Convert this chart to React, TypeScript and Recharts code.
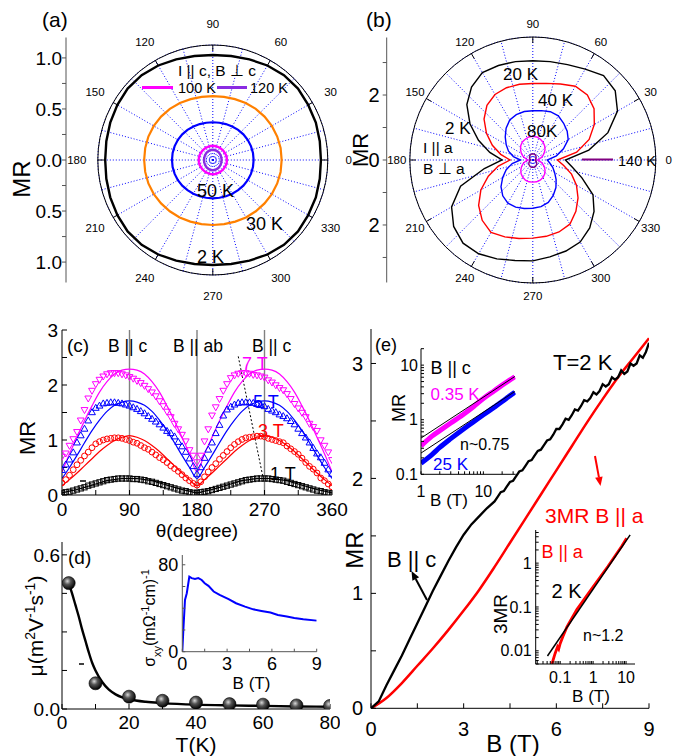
import React from 'react';
import {
  ComposedChart,
  Line,
  Scatter,
  XAxis,
  YAxis,
  ReferenceLine,
  RadarChart,
  Radar,
  PolarGrid,
  PolarAngleAxis,
  PolarRadiusAxis,
} from 'recharts';

const FONT = '"Liberation Sans", Arial, Helvetica, sans-serif';

// ---------- (a), (b): polar MR(theta), one value every 10 degrees (0..350) ----------
const polarAngles = Array.from({ length: 36 }, (_, i) => i * 10);
const gridAngles = Array.from({ length: 24 }, (_, i) => i * 15);

// (a) I || c, B ⊥ c
const a2K = [1.06, 1.065, 1.075, 1.08, 1.09, 1.085, 1.07, 1.05, 1.035, 1.03, 1.035, 1.05, 1.07, 1.085, 1.09, 1.08, 1.07, 1.06, 1.055, 1.06, 1.07, 1.08, 1.09, 1.085, 1.07, 1.05, 1.035, 1.03, 1.035, 1.05, 1.07, 1.085, 1.09, 1.08, 1.075, 1.065];
const a30K = [0.675, 0.675, 0.672, 0.668, 0.662, 0.655, 0.645, 0.635, 0.629, 0.627, 0.629, 0.635, 0.645, 0.655, 0.662, 0.668, 0.672, 0.673, 0.673, 0.673, 0.672, 0.668, 0.662, 0.656, 0.65, 0.643, 0.639, 0.637, 0.639, 0.643, 0.65, 0.656, 0.662, 0.668, 0.672, 0.675];
const a50K = [0.4, 0.4, 0.398, 0.395, 0.391, 0.386, 0.38, 0.375, 0.371, 0.37, 0.371, 0.375, 0.38, 0.386, 0.391, 0.395, 0.398, 0.4, 0.4, 0.4, 0.398, 0.395, 0.391, 0.386, 0.382, 0.378, 0.376, 0.376, 0.376, 0.378, 0.382, 0.386, 0.391, 0.395, 0.398, 0.4];
const a100K = [0.138, 0.138, 0.138, 0.137, 0.137, 0.137, 0.138, 0.138, 0.139, 0.139, 0.139, 0.138, 0.138, 0.137, 0.137, 0.137, 0.138, 0.138, 0.138, 0.138, 0.138, 0.137, 0.137, 0.137, 0.138, 0.138, 0.139, 0.139, 0.139, 0.138, 0.138, 0.137, 0.137, 0.137, 0.138, 0.138];
const a120K = [0.086, 0.086, 0.087, 0.089, 0.091, 0.094, 0.096, 0.098, 0.1, 0.1, 0.1, 0.098, 0.096, 0.094, 0.091, 0.089, 0.087, 0.086, 0.086, 0.086, 0.087, 0.089, 0.091, 0.094, 0.096, 0.098, 0.1, 0.1, 0.1, 0.098, 0.096, 0.094, 0.091, 0.089, 0.087, 0.086];

// (b) I || a, B ⊥ a
const b2K = [1.06, 1.85, 2.6, 3.18, 3.5, 3.58, 3.41, 3.3, 3.25, 3.23, 3.25, 3.27, 3.28, 3.1, 2.8, 2.36, 1.88, 1.42, 1.0, 1.6, 2.5, 3.05, 3.36, 3.53, 3.52, 3.42, 3.32, 3.28, 3.2, 3.15, 3.08, 2.88, 2.6, 2.26, 1.7, 1.3];
const b20K = [0.8, 1.45, 1.95, 2.31, 2.6, 2.76, 2.77, 2.63, 2.53, 2.49, 2.5, 2.5, 2.46, 2.32, 2.07, 1.74, 1.4, 1.06, 0.74, 1.14, 1.54, 1.95, 2.3, 2.56, 2.72, 2.66, 2.59, 2.54, 2.52, 2.49, 2.41, 2.18, 1.92, 1.64, 1.34, 1.02];
const b40K = [0.47, 0.78, 1.06, 1.33, 1.46, 1.56, 1.66, 1.67, 1.63, 1.6, 1.6, 1.57, 1.5, 1.35, 1.17, 1.0, 0.84, 0.64, 0.4, 0.68, 0.92, 1.13, 1.35, 1.52, 1.62, 1.63, 1.6, 1.57, 1.54, 1.47, 1.33, 1.17, 0.99, 0.82, 0.69, 0.56];
const b80K = [0.15, 0.23, 0.33, 0.42, 0.52, 0.6, 0.67, 0.72, 0.76, 0.77, 0.76, 0.72, 0.68, 0.61, 0.52, 0.43, 0.33, 0.23, 0.15, 0.24, 0.33, 0.42, 0.51, 0.59, 0.65, 0.7, 0.72, 0.72, 0.72, 0.7, 0.66, 0.6, 0.52, 0.43, 0.33, 0.24];
const b140K = [0.07, 0.08, 0.1, 0.12, 0.14, 0.16, 0.18, 0.19, 0.2, 0.2, 0.2, 0.19, 0.18, 0.16, 0.14, 0.12, 0.1, 0.08, 0.07, 0.09, 0.11, 0.14, 0.17, 0.19, 0.21, 0.23, 0.24, 0.24, 0.24, 0.23, 0.21, 0.19, 0.17, 0.14, 0.11, 0.09];

// ---------- (c) MR vs angle, markers every 5 deg, fits every 10 deg ----------
const thetaPts = Array.from({ length: 73 }, (_, i) => i * 5);
const thetaFit = Array.from({ length: 37 }, (_, i) => i * 10);

const mr7T = [0.7, 0.76, 0.9, 1.02, 1.15, 1.36, 1.55, 1.76, 1.9, 2.02, 2.1, 2.16, 2.2, 2.22, 2.22, 2.22, 2.2, 2.18, 2.15, 2.12, 2.08, 2.04, 1.99, 1.93, 1.87, 1.8, 1.71, 1.62, 1.52, 1.42, 1.3, 1.2, 1.1, 0.98, 0.82, 0.72, 0.6, 0.72, 0.98, 1.2, 1.45, 1.6, 1.75, 1.9, 2.02, 2.13, 2.18, 2.21, 2.22, 2.22, 2.21, 2.19, 2.18, 2.16, 2.14, 2.09, 2.05, 2.0, 1.95, 1.91, 1.84, 1.75, 1.66, 1.58, 1.5, 1.42, 1.3, 1.24, 1.17, 1.0, 0.9, 0.78, 0.64];
const mr5T = [0.45, 0.55, 0.64, 0.77, 0.95, 1.08, 1.2, 1.35, 1.5, 1.58, 1.62, 1.66, 1.67, 1.68, 1.68, 1.67, 1.66, 1.64, 1.62, 1.59, 1.56, 1.52, 1.48, 1.43, 1.38, 1.33, 1.28, 1.22, 1.16, 1.12, 1.06, 0.96, 0.88, 0.78, 0.66, 0.52, 0.38, 0.5, 0.67, 0.82, 0.95, 1.12, 1.27, 1.44, 1.55, 1.6, 1.64, 1.67, 1.68, 1.68, 1.68, 1.67, 1.65, 1.63, 1.61, 1.56, 1.53, 1.5, 1.46, 1.43, 1.39, 1.34, 1.28, 1.2, 1.12, 1.04, 0.95, 0.85, 0.75, 0.68, 0.58, 0.46, 0.38];
const mr3T = [0.22, 0.28, 0.36, 0.46, 0.55, 0.63, 0.71, 0.78, 0.86, 0.93, 0.97, 1.0, 1.02, 1.03, 1.04, 1.04, 1.03, 1.01, 0.99, 0.96, 0.94, 0.9, 0.86, 0.83, 0.78, 0.73, 0.68, 0.64, 0.59, 0.53, 0.48, 0.43, 0.37, 0.31, 0.26, 0.21, 0.18, 0.24, 0.33, 0.42, 0.5, 0.57, 0.65, 0.72, 0.79, 0.86, 0.92, 0.97, 1.01, 1.04, 1.05, 1.06, 1.07, 1.07, 1.06, 1.03, 1.01, 0.99, 0.97, 0.95, 0.89, 0.84, 0.79, 0.74, 0.67, 0.59, 0.52, 0.47, 0.4, 0.31, 0.26, 0.2, 0.15];
const mr1T = [0.04, 0.05, 0.06, 0.08, 0.1, 0.12, 0.14, 0.17, 0.19, 0.21, 0.23, 0.25, 0.27, 0.28, 0.29, 0.3, 0.3, 0.3, 0.3, 0.29, 0.29, 0.28, 0.27, 0.25, 0.24, 0.22, 0.2, 0.18, 0.16, 0.14, 0.12, 0.1, 0.08, 0.07, 0.05, 0.04, 0.04, 0.05, 0.06, 0.07, 0.09, 0.11, 0.13, 0.15, 0.17, 0.19, 0.21, 0.23, 0.25, 0.27, 0.28, 0.29, 0.3, 0.3, 0.3, 0.3, 0.29, 0.28, 0.27, 0.26, 0.24, 0.22, 0.2, 0.18, 0.16, 0.14, 0.12, 0.1, 0.08, 0.07, 0.05, 0.04, 0.03];

const fit7T = [0.42, 0.75, 1.05, 1.35, 1.62, 1.87, 2.06, 2.2, 2.27, 2.29, 2.27, 2.2, 2.06, 1.87, 1.62, 1.35, 1.05, 0.75, 0.42, 0.75, 1.05, 1.35, 1.62, 1.87, 2.06, 2.2, 2.27, 2.29, 2.27, 2.2, 2.06, 1.87, 1.62, 1.35, 1.05, 0.75, 0.42];
const fit5T = [0.3, 0.5, 0.72, 0.95, 1.17, 1.36, 1.52, 1.63, 1.69, 1.71, 1.69, 1.63, 1.52, 1.36, 1.17, 0.95, 0.72, 0.5, 0.3, 0.5, 0.72, 0.95, 1.17, 1.36, 1.52, 1.63, 1.69, 1.71, 1.69, 1.63, 1.52, 1.36, 1.17, 0.95, 0.72, 0.5, 0.3];
const fit3T = [0.17, 0.28, 0.4, 0.53, 0.66, 0.79, 0.9, 0.99, 1.05, 1.08, 1.05, 0.99, 0.9, 0.79, 0.66, 0.53, 0.4, 0.28, 0.17, 0.28, 0.4, 0.53, 0.66, 0.79, 0.9, 0.99, 1.05, 1.08, 1.05, 0.99, 0.9, 0.79, 0.66, 0.53, 0.4, 0.28, 0.17];
const fit1T = [0.04, 0.07, 0.1, 0.14, 0.18, 0.22, 0.26, 0.28, 0.3, 0.3, 0.3, 0.28, 0.26, 0.22, 0.18, 0.14, 0.1, 0.07, 0.04, 0.07, 0.1, 0.14, 0.18, 0.22, 0.26, 0.28, 0.3, 0.3, 0.3, 0.28, 0.26, 0.22, 0.18, 0.14, 0.1, 0.07, 0.04];

// ---------- (d) mobility vs T, inset sigma_xy vs B ----------
const muT = [2, 10, 20, 30, 40, 50, 60, 70, 80];
const muVal = [0.49, 0.1, 0.048, 0.032, 0.025, 0.019, 0.017, 0.014, 0.012];
const muFitT = [2, 3, 4, 5, 6, 7, 8, 9, 10, 12, 14, 16, 18, 20, 25, 30, 40, 50, 60, 70, 80];
const muFit = [0.49, 0.45, 0.405, 0.36, 0.31, 0.265, 0.22, 0.18, 0.15, 0.105, 0.075, 0.057, 0.045, 0.038, 0.028, 0.023, 0.017, 0.014, 0.012, 0.01, 0.009];
const sigB = [0, 0.07, 0.18, 0.3, 0.47, 0.63, 0.85, 1.07, 1.3, 1.5, 1.75, 2.1, 2.5, 3.1, 3.6, 4.2, 4.75, 5.3, 5.9, 6.4, 7, 7.5, 8.1, 9];
const sigXY = [0, 20, 47.7, 53.8, 69, 67.7, 67, 67.7, 66, 63, 60.6, 55.4, 52.3, 48.3, 44.6, 41.5, 39, 37.5, 36, 33.8, 32.3, 31, 29.8, 28.6];

// ---------- (e) MR vs B at 2 K ----------
const eBlackB = [0, 0.25, 0.5, 0.75, 1, 1.25, 1.5, 1.75, 2, 2.25, 2.5, 2.75, 3, 3.25, 3.5, 3.75, ...Array.from({ length: 51 }, (_, i) => +(4 + i * 0.1).toFixed(1))];
const eBlackMR = [
  0, 0.06, 0.2, 0.33, 0.46, 0.6, 0.74, 0.88, 1.02, 1.15, 1.28, 1.4, 1.51, 1.6, 1.67, 1.74,
  1.8, 1.84, 1.88, 1.89, 1.93, 1.97, 1.98, 2.02, 2.06, 2.07,
  2.11, 2.15, 2.16, 2.2, 2.24, 2.25, 2.29, 2.33, 2.34, 2.38,
  2.43, 2.43, 2.47, 2.52, 2.51, 2.55, 2.6, 2.59, 2.63, 2.68,
  2.67, 2.7, 2.75, 2.73, 2.76, 2.82, 2.8, 2.82, 2.88, 2.86,
  2.88, 2.94, 2.91, 2.93, 3.0, 2.98, 3.0, 3.07, 3.05, 3.1,
  3.18,
];
const eRedB = [0, 0.5, 1, 1.5, 2, 2.5, 3, 3.5, 4, 4.5, 5, 5.5, 6, 6.5, 7, 7.5, 8, 8.5, 9];
const eRed3MR = [0, 0.09, 0.22, 0.37, 0.52, 0.68, 0.85, 1.03, 1.23, 1.44, 1.65, 1.86, 2.07, 2.28, 2.49, 2.69, 2.88, 3.05, 3.22];

// inset 1: log-log, B || c
const in1B = [1, 1.5, 2, 3, 5, 7, 10, 15, 20, 25, 32];
const in1Mag = [0.33, 0.5, 0.63, 0.87, 1.3, 1.75, 2.45, 3.4, 4.3, 5.1, 6.1];
const in1Blue = [0.16, 0.23, 0.31, 0.45, 0.7, 0.92, 1.23, 1.7, 2.15, 2.6, 3.2];
const in1FitB = [1, 32];
const in1FitUp = [0.46, 6.2];
const in1FitLo = [0.245, 3.29];

// inset 2: log-log, B || a
const in2B = [0.056, 0.07, 0.083, 0.09, 0.1, 0.12, 0.16, 0.32, 1, 2.8, 7.3, 10.4];
const in2MR = [0.005, 0.0087, 0.0123, 0.011, 0.0147, 0.021, 0.035, 0.087, 0.29, 0.84, 2.4, 3.7];
const in2FitB = [0.041, 13.3];
const in2Fit = [0.0076, 4.4];

const xy = (xs: number[], ys: number[]) => xs.map((t, i) => ({ t, v: ys[i] }));
const logTicks = (lo: number, hi: number) => {
  const out: number[] = [];
  for (let e = -3; e <= 2; e++) {
    for (let m = 1; m <= 9; m++) {
      const v = +(m * Math.pow(10, e)).toPrecision(3);
      if (v >= lo && v <= hi) out.push(v);
    }
  }
  return out;
};
const isDecade = (v: number) => Math.abs(Math.log10(v) - Math.round(Math.log10(v))) < 1e-6;

// RadarChart walks clockwise from the top, so category k sits at 90 - 10k degrees
const polarRows = (series: Record<string, number[]>) =>
  polarAngles.map((_, k) => {
    const ang = (((90 - 10 * k) % 360) + 360) % 360;
    const j = ang / 10;
    const row: Record<string, number> = { ang };
    Object.keys(series).forEach((key) => {
      row[key] = series[key][j];
    });
    return row;
  });

type Frame = {
  xDomain: [number, number];
  yDomain: [number, number];
  xTicks: number[];
  yTicks: number[];
  xFmt: (v: number) => string;
  yFmt: (v: number) => string;
  yWidth: number;
  xHeight: number;
  tick: number;
  xMargin: number;
  yMargin: number;
  fontSize: number;
  log?: boolean;
  box?: boolean;
  color?: string;
};

function frameAxes(o: Frame) {
  const scale = o.log ? 'log' : 'linear';
  const stroke = o.color ?? '#000';
  const style = { fontSize: o.fontSize, fill: '#000' };
  const axes = [
    <XAxis key="xb" type="number" dataKey="t" scale={scale} domain={o.xDomain} allowDataOverflow ticks={o.xTicks}
      tickFormatter={o.xFmt} interval={0} height={o.xHeight} tickSize={-o.tick} tickMargin={o.xMargin}
      tick={style} stroke={stroke} />,
    <YAxis key="yl" type="number" dataKey="v" scale={scale} domain={o.yDomain} allowDataOverflow ticks={o.yTicks}
      tickFormatter={o.yFmt} interval={0} width={o.yWidth} tickSize={-o.tick} tickMargin={o.yMargin}
      tick={style} stroke={stroke} />,
  ];
  if (o.box) {
    axes.push(
      <XAxis key="xt" xAxisId="top" orientation="top" type="number" scale={scale} domain={o.xDomain} allowDataOverflow
        ticks={o.xTicks} interval={0} height={0} tickSize={-o.tick} tick={false} stroke={stroke} />,
      <YAxis key="yr" yAxisId="right" orientation="right" type="number" scale={scale} domain={o.yDomain} allowDataOverflow
        ticks={o.yTicks} interval={0} width={0} tickSize={-o.tick} tick={false} stroke={stroke} />,
    );
  }
  return axes;
}

// angle labels placed at the true angle of each 30-degree category
const polarTick = (cx: number, cy: number, r: number, labelR: number) => (props: any) => {
  const deg = Number(props.payload?.value);
  if (deg % 30 !== 0) return <g />;
  const rad = (deg * Math.PI) / 180;
  const ux = Math.cos(rad);
  const uy = -Math.sin(rad);
  return (
    <g>
      <line x1={cx + ux * r} y1={cy + uy * r} x2={cx + ux * (r - 6)} y2={cy + uy * (r - 6)} stroke="#000" />
      <text x={cx + ux * labelR} y={cy + uy * labelR} textAnchor="middle" dominantBaseline="central" fontSize={11.5} fill="#000">
        {deg}
      </text>
    </g>
  );
};

type PolarSeries = { key: string; color: string; w: number };

function PolarPanel(props: { left: number; width: number; cx: number; r: number; rMax: number; data: any[]; series: PolarSeries[] }) {
  const { left, width, cx, r, rMax, data, series } = props;
  return (
    <div style={{ position: 'absolute', left, top: 0 }}>
      <RadarChart width={width} height={320} data={data} cx={cx} cy={160} outerRadius={r}
        margin={{ top: 0, right: 0, bottom: 0, left: 0 }}>
        <PolarGrid gridType="circle" polarAngles={gridAngles} polarRadius={[r]} stroke="#0000ff" strokeDasharray="1 2" />
        <PolarRadiusAxis type="number" domain={[0, rMax]} tick={false} axisLine={false} />
        <PolarAngleAxis dataKey="ang" axisLineType="circle" stroke="#000" tickLine={false} tick={polarTick(cx, 160, r, 136)} />
        {series.map((s) => (
          <Radar key={s.key} dataKey={s.key} stroke={s.color} strokeWidth={s.w} fill="none" fillOpacity={0}
            dot={false} activeDot={false} isAnimationActive={false} />
        ))}
      </RadarChart>
    </div>
  );
}

function SideAxis(props: { left: number; width: number; max: number; ticks: number[]; labelled: number[]; digits: number; fontSize: number; margin: number }) {
  const { left, width, max, ticks, labelled, digits, fontSize, margin } = props;
  const plotH = 245;
  return (
    <div style={{ position: 'absolute', left, top: 0 }}>
      <ComposedChart width={width + 4} height={320} data={[]} margin={{ top: 37.5, right: 0, bottom: 320 - 37.5 - plotH, left: 0 }}>
        <XAxis hide type="number" domain={[0, 1]} />
        <YAxis type="number" domain={[-max, max]} allowDataOverflow ticks={ticks} interval={0} width={width}
          tickSize={4} tickMargin={margin} stroke="#555" tick={{ fontSize, fill: '#000' }}
          tickFormatter={(v: number) => (labelled.includes(v) ? Math.abs(v).toFixed(digits) : '')} />
      </ComposedChart>
    </div>
  );
}

const boxShape = (color: string) => (p: any) =>
  p.cx == null ? <g /> : <rect x={p.cx - 2.6} y={p.cy - 2.6} width={5.2} height={5.2} fill="none" stroke={color} strokeWidth={1} />;
const ringShape = (color: string) => (p: any) =>
  p.cx == null ? <g /> : <circle cx={p.cx} cy={p.cy} r={2.9} fill="none" stroke={color} strokeWidth={1} />;
const triUpShape = (color: string) => (p: any) =>
  p.cx == null ? <g /> : (
    <path d={`M${p.cx},${p.cy - 3.8}L${p.cx + 3.4},${p.cy + 2.2}L${p.cx - 3.4},${p.cy + 2.2}Z`} fill="none" stroke={color} strokeWidth={1} />
  );
const triDownShape = (color: string) => (p: any) =>
  p.cx == null ? <g /> : (
    <path d={`M${p.cx},${p.cy + 3.8}L${p.cx + 3.4},${p.cy - 2.2}L${p.cx - 3.4},${p.cy - 2.2}Z`} fill="none" stroke={color} strokeWidth={1} />
  );
const ballShape = (p: any) =>
  p.cx == null ? <g /> : <circle cx={p.cx} cy={p.cy} r={6.5} fill="url(#ballGrad)" stroke="#000" strokeWidth={0.6} />;

function Txt(p: { x: number; y: number; s: number; c?: string; a?: 'start' | 'middle' | 'end'; rot?: boolean; children: React.ReactNode }) {
  return (
    <text x={p.x} y={p.y} fontSize={p.s} fill={p.c ?? '#000'} textAnchor={p.a ?? 'start'}
      transform={p.rot ? `rotate(-90, ${p.x}, ${p.y})` : undefined}>
      {p.children}
    </text>
  );
}

function Arrow(p: { x1: number; y1: number; x2: number; y2: number; c: string }) {
  const dx = p.x2 - p.x1;
  const dy = p.y2 - p.y1;
  const len = Math.hypot(dx, dy);
  const ux = dx / len;
  const uy = dy / len;
  const bx = p.x2 - ux * 9;
  const by = p.y2 - uy * 9;
  const pts = `${p.x2},${p.y2} ${bx - uy * 3.8},${by + ux * 3.8} ${bx + uy * 3.8},${by - ux * 3.8}`;
  return (
    <g>
      <line x1={p.x1} y1={p.y1} x2={bx} y2={by} stroke={p.c} strokeWidth={2} />
      <polygon points={pts} fill={p.c} />
    </g>
  );
}

const sup = (s: string, size: number) => (
  <tspan baselineShift="super" fontSize={size}>{s}</tspan>
);

export default function App() {
  const polarA = polarRows({ k2: a2K, k30: a30K, k50: a50K, k100: a100K, k120: a120K });
  const polarB = polarRows({ k2: b2K, k20: b20K, k40: b40K, k80: b80K, k140: b140K });

  return (
    <div style={{ position: 'absolute', left: 0, top: 0, width: 677, height: 756, background: '#fff', fontFamily: FONT, overflow: 'hidden' }}>
      {/* (a) */}
      <PolarPanel left={0} width={360} cx={212.8} r={115} rMax={115 / 102} data={polarA}
        series={[
          { key: 'k2', color: '#000000', w: 2.4 },
          { key: 'k30', color: '#ff8000', w: 2.2 },
          { key: 'k50', color: '#0000ff', w: 2.2 },
          { key: 'k100', color: '#ff00ff', w: 2.4 },
          { key: 'k120', color: '#8a2be2', w: 2.4 },
        ]} />
      <SideAxis left={0} width={66} max={1.2} ticks={[-1, -0.75, -0.5, -0.25, 0, 0.25, 0.5, 0.75, 1]}
        labelled={[-1, -0.5, 0, 0.5, 1]} digits={1} fontSize={19} margin={0} />

      {/* (b) */}
      <PolarPanel left={340} width={337} cx={192.8} r={123} rMax={123 / 32.5} data={polarB}
        series={[
          { key: 'k2', color: '#000000', w: 1.4 },
          { key: 'k20', color: '#ff0000', w: 1.4 },
          { key: 'k40', color: '#0000ff', w: 1.4 },
          { key: 'k80', color: '#ff00ff', w: 1.4 },
          { key: 'k140', color: '#800080', w: 1.4 },
        ]} />
      <SideAxis left={340} width={46.7} max={3.77} ticks={[-3, -2, -1, 0, 1, 2, 3]} labelled={[-2, 0, 2]}
        digits={0} fontSize={20} margin={3} />

      {/* (c) */}
      <div style={{ position: 'absolute', left: 0, top: 320 }}>
        <ComposedChart width={360} height={212} margin={{ top: 10, right: 28, bottom: 0, left: 0 }}>
          {frameAxes({
            xDomain: [0, 360], yDomain: [0, 3],
            xTicks: [0, 45, 90, 135, 180, 225, 270, 315, 360], yTicks: [0, 0.5, 1, 1.5, 2, 2.5, 3],
            xFmt: (v) => (v % 90 === 0 ? String(v) : ''), yFmt: (v) => (Number.isInteger(v) ? String(v) : ''),
            yWidth: 62, xHeight: 37, tick: 5, xMargin: 12.5, yMargin: 9, fontSize: 19, box: true,
          })}
          <ReferenceLine x={90} stroke="#808080" strokeWidth={1.4} />
          <ReferenceLine x={180} stroke="#808080" strokeWidth={1.4} />
          <ReferenceLine x={270} stroke="#808080" strokeWidth={1.4} />
          <ReferenceLine segment={[{ x: 235, y: 2.52 }, { x: 268, y: 0.32 }]} stroke="#000" strokeDasharray="2 2" />
          <Line data={xy(thetaFit, fit7T)} dataKey="v" type="monotone" stroke="#ff00ff" strokeWidth={1.2} dot={false} isAnimationActive={false} />
          <Line data={xy(thetaFit, fit5T)} dataKey="v" type="monotone" stroke="#0000ff" strokeWidth={1.2} dot={false} isAnimationActive={false} />
          <Line data={xy(thetaFit, fit3T)} dataKey="v" type="monotone" stroke="#ff0000" strokeWidth={1.2} dot={false} isAnimationActive={false} />
          <Line data={xy(thetaFit, fit1T)} dataKey="v" type="monotone" stroke="#000000" strokeWidth={1.2} dot={false} isAnimationActive={false} />
          <Scatter data={xy(thetaPts, mr1T)} dataKey="v" shape={boxShape('#000')} isAnimationActive={false} />
          <Scatter data={xy(thetaPts, mr3T)} dataKey="v" shape={ringShape('#ff0000')} isAnimationActive={false} />
          <Scatter data={xy(thetaPts, mr5T)} dataKey="v" shape={triUpShape('#0000ff')} isAnimationActive={false} />
          <Scatter data={xy(thetaPts, mr7T)} dataKey="v" shape={triDownShape('#ff00ff')} isAnimationActive={false} />
        </ComposedChart>
      </div>

      {/* (d) */}
      <div style={{ position: 'absolute', left: 0, top: 530 }}>
        <ComposedChart width={340} height={226} margin={{ top: 12, right: 10, bottom: 0, left: 0 }}>
          {frameAxes({
            xDomain: [0, 80], yDomain: [0, 0.65],
            xTicks: [0, 10, 20, 30, 40, 50, 60, 70, 80], yTicks: [0, 0.15, 0.3, 0.45, 0.6],
            xFmt: (v) => (v % 20 === 0 ? String(v) : ''), yFmt: (v) => (v === 0 ? '0.0' : v === 0.6 ? '0.6' : ''),
            yWidth: 62, xHeight: 47, tick: 5, xMargin: 12, yMargin: 7, fontSize: 19, box: true,
          })}
          <Line data={xy(muFitT, muFit)} dataKey="v" type="monotone" stroke="#000" strokeWidth={2.4} dot={false} isAnimationActive={false} />
          <Scatter data={xy(muT, muVal)} dataKey="v" shape={ballShape} isAnimationActive={false} />
        </ComposedChart>
      </div>
      <div style={{ position: 'absolute', left: 140, top: 545 }}>
        <ComposedChart width={185} height={132} margin={{ top: 10, right: 8.3, bottom: 0, left: 0 }}>
          {frameAxes({
            xDomain: [0, 9], yDomain: [0, 89],
            xTicks: [0, 1.5, 3, 4.5, 6, 7.5, 9], yTicks: [0, 20, 40, 60, 80],
            xFmt: (v) => (v % 3 === 0 ? String(v) : ''), yFmt: (v) => (v === 0 || v === 80 ? String(v) : ''),
            yWidth: 42.3, xHeight: 25.3, tick: 3, xMargin: 8.5, yMargin: 7, fontSize: 18, color: '#555',
          })}
          <Line data={xy(sigB, sigXY)} dataKey="v" type="linear" stroke="#0000ff" strokeWidth={2} dot={false} isAnimationActive={false} />
        </ComposedChart>
      </div>

      {/* (e) */}
      <div style={{ position: 'absolute', left: 320, top: 320 }}>
        <ComposedChart width={357} height={436} margin={{ top: 9, right: 28, bottom: 0, left: 0 }}>
          {frameAxes({
            xDomain: [0, 9], yDomain: [0, 3.3],
            xTicks: [0, 1.5, 3, 4.5, 6, 7.5, 9], yTicks: [0, 0.5, 1, 1.5, 2, 2.5, 3],
            xFmt: (v) => (v % 3 === 0 ? String(v) : ''), yFmt: (v) => (Number.isInteger(v) ? String(v) : ''),
            yWidth: 51, xHeight: 47.7, tick: 5, xMargin: 18, yMargin: 13, fontSize: 20, box: true,
          })}
          <Line data={xy(eRedB, eRed3MR)} dataKey="v" type="monotone" stroke="#ff0000" strokeWidth={2.5} dot={false} isAnimationActive={false} />
          <Line data={xy(eBlackB, eBlackMR)} dataKey="v" type="linear" stroke="#000" strokeWidth={2.3} dot={false} isAnimationActive={false} />
        </ComposedChart>
      </div>
      <div style={{ position: 'absolute', left: 385, top: 340 }}>
        <ComposedChart width={140} height={165} margin={{ top: 8.7, right: 9.3, bottom: 0, left: 0 }}>
          {frameAxes({
            xDomain: [1, 33], yDomain: [0.1, 20],
            xTicks: logTicks(1, 33), yTicks: logTicks(0.1, 20),
            xFmt: (v) => (isDecade(v) ? String(v) : ''), yFmt: (v) => (isDecade(v) ? String(v) : ''),
            yWidth: 36, xHeight: 30.7, tick: 3, xMargin: 14, yMargin: 6, fontSize: 16, log: true, box: true,
          })}
          <Line data={xy(in1B, in1Mag)} dataKey="v" type="monotone" stroke="#ff00ff" strokeWidth={5} dot={false} isAnimationActive={false} />
          <Line data={xy(in1B, in1Blue)} dataKey="v" type="monotone" stroke="#0000ff" strokeWidth={5} dot={false} isAnimationActive={false} />
          <Line data={xy(in1FitB, in1FitUp)} dataKey="v" type="linear" stroke="#000" strokeWidth={1} dot={false} isAnimationActive={false} />
          <Line data={xy(in1FitB, in1FitLo)} dataKey="v" type="linear" stroke="#000" strokeWidth={1} dot={false} isAnimationActive={false} />
        </ComposedChart>
      </div>
      <div style={{ position: 'absolute', left: 495, top: 520 }}>
        <ComposedChart width={150} height={170} margin={{ top: 10, right: 10, bottom: 0, left: 0 }}>
          {frameAxes({
            xDomain: [0.018, 18.7], yDomain: [0.005, 5.7],
            xTicks: logTicks(0.018, 18.7), yTicks: logTicks(0.005, 5.7),
            xFmt: (v) => (isDecade(v) ? String(v) : ''), yFmt: (v) => (isDecade(v) ? String(v) : ''),
            yWidth: 40.7, xHeight: 26, tick: 3, xMargin: 11, yMargin: 7, fontSize: 16, log: true, box: true,
          })}
          <Line data={xy(in2B, in2MR)} dataKey="v" type="linear" stroke="#ff0000" strokeWidth={2.8} dot={false} isAnimationActive={false} />
          <Line data={xy(in2FitB, in2Fit)} dataKey="v" type="linear" stroke="#000" strokeWidth={1.5} dot={false} isAnimationActive={false} />
        </ComposedChart>
      </div>

      {/* annotations */}
      <svg width={677} height={756} style={{ position: 'absolute', left: 0, top: 0, pointerEvents: 'none' }}>
        <defs>
          <radialGradient id="ballGrad" cx="40%" cy="35%" r="65%">
            <stop offset="0%" stopColor="#d8d8d8" />
            <stop offset="40%" stopColor="#555" />
            <stop offset="100%" stopColor="#000" />
          </radialGradient>
        </defs>

        {/* (a) */}
        <Txt x={42} y={27} s={21}>(a)</Txt>
        <Txt x={30} y={179} s={24} a="middle" rot>MR</Txt>
        <Txt x={217} y={76} s={15.5} a="middle">I || c, B ⊥ c</Txt>
        <line x1={142} y1={87.5} x2={173} y2={87.5} stroke="#ff00ff" strokeWidth={3} />
        <Txt x={178} y={92.5} s={14.5}>100 K</Txt>
        <line x1={217} y1={87.5} x2={247} y2={87.5} stroke="#8a2be2" strokeWidth={3} />
        <Txt x={250} y={92.5} s={14.5}>120 K</Txt>
        <Txt x={197} y={197} s={18}>50 K</Txt>
        <Txt x={246} y={230} s={18}>30 K</Txt>
        <Txt x={197} y={263} s={18}>2 K</Txt>

        {/* (b) */}
        <Txt x={366} y={27} s={21}>(b)</Txt>
        <Txt x={368} y={150} s={22} a="middle" rot>MR</Txt>
        <Txt x={503} y={80} s={17}>20 K</Txt>
        <Txt x={538} y={106} s={17}>40 K</Txt>
        <Txt x={527} y={137} s={17}>80K</Txt>
        <Txt x={445} y={134} s={17}>2 K</Txt>
        <Txt x={423} y={153} s={15.5}>I || a</Txt>
        <Txt x={423} y={174} s={15.5}>B ⊥ a</Txt>
        <line x1={582} y1={159.5} x2={613} y2={159.5} stroke="#800080" strokeWidth={2} />
        <Txt x={618} y={166} s={14.5}>140 K</Txt>

        {/* (c) */}
        <Txt x={67} y={352} s={19}>(c)</Txt>
        <Txt x={35} y={438} s={22} a="middle" rot>MR</Txt>
        <Txt x={108} y={352} s={17.5}>B || c</Txt>
        <Txt x={173} y={352} s={17.5}>B || ab</Txt>
        <Txt x={252} y={352} s={17.5}>B || c</Txt>
        <Txt x={242} y={370} s={18} c="#ff00ff">7 T</Txt>
        <Txt x={253} y={408} s={18} c="#0000ff">5 T</Txt>
        <Txt x={258} y={437} s={18} c="#ff0000">3 T</Txt>
        <Txt x={270} y={480} s={18}>1 T</Txt>
        <line x1={80} y1={481} x2={86} y2={481} stroke="#000" strokeWidth={1.5} />
        <Txt x={197} y={537} s={19} a="middle">θ(degree)</Txt>

        {/* (d) */}
        <Txt x={68} y={564} s={19}>(d)</Txt>
        <text x={43} y={626} fontSize={21} textAnchor="middle" transform="rotate(-90, 43, 626)">
          μ(m{sup('2', 14)}V{sup('-1', 14)}s{sup('-1', 14)})
        </text>
        <line x1={79} y1={664} x2={84} y2={664} stroke="#000" strokeWidth={1.5} />
        <Txt x={196} y={752} s={21} a="middle">T(K)</Txt>
        <text x={155} y={618} fontSize={16} textAnchor="middle" transform="rotate(-90, 155, 618)">
          σ<tspan baselineShift="sub" fontSize={11}>xy</tspan>(mΩ{sup('-1', 11)}cm){sup('-1', 11)}
        </text>
        <Txt x={251.5} y={689} s={17} a="middle">B (T)</Txt>

        {/* (e) */}
        <Txt x={375} y={351} s={18}>(e)</Txt>
        <Txt x={363} y={550} s={24} a="middle" rot>MR</Txt>
        <Txt x={513} y={752} s={24} a="middle">B (T)</Txt>
        <Txt x={553} y={370} s={22}>T=2 K</Txt>
        <Txt x={545} y={523} s={21} c="#ff0000">3MR B || a</Txt>
        <Txt x={387} y={567} s={22}>B || c</Txt>
        <Arrow x1={427} y1={600} x2={411.5} y2={571} c="#000" />
        <Arrow x1={595} y1={456} x2={600.5} y2={486} c="#ff0000" />

        <Txt x={430.5} y={374} s={18}>B || c</Txt>
        <Txt x={430.5} y={400} s={17} c="#ff00ff">0.35 K</Txt>
        <Txt x={460} y={450} s={16}>n~0.75</Txt>
        <Txt x={433} y={470} s={17} c="#0000ff">25 K</Txt>
        <Txt x={405} y={408} s={18} a="middle" rot>MR</Txt>
        <Txt x={449} y={506} s={17} a="middle">B (T)</Txt>

        <Txt x={541.5} y={558} s={18} c="#ff0000">B || a</Txt>
        <Txt x={551.5} y={598} s={20}>2 K</Txt>
        <Txt x={583} y={641} s={16}>n~1.2</Txt>
        <Txt x={507} y={614} s={19} a="middle" rot>3MR</Txt>
        <Txt x={591} y={702} s={17} a="middle">B (T)</Txt>
      </svg>
    </div>
  );
}
